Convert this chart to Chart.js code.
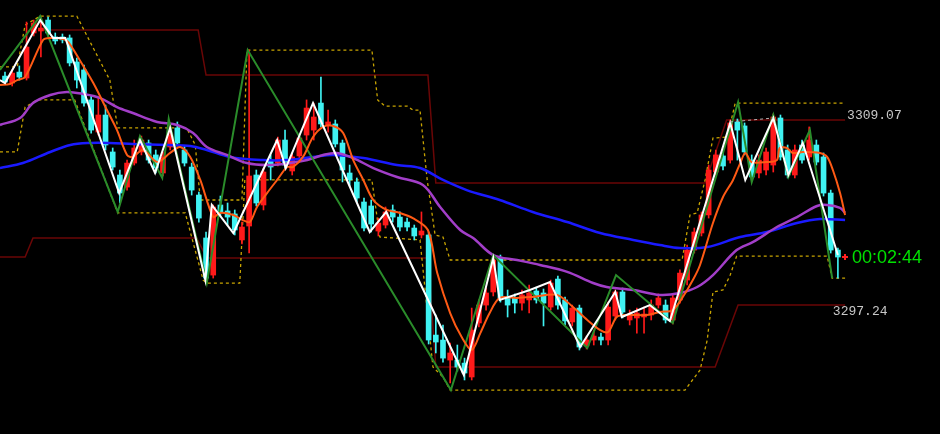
<!DOCTYPE html>
<html>
<head>
<meta charset="utf-8">
<script src="https://cdn.jsdelivr.net/npm/chart.js@4.4.1/dist/chart.umd.min.js"></script>
<style>
  html, body { margin: 0; padding: 0; background: #000; }
  #wrap { width: 940px; height: 434px; background: #000; }
</style>
</head>
<body>
<div id="wrap"><canvas id="c" width="940" height="434"></canvas></div>
<script>
// candle OHLC, one entry per bar (index 0..116)
const opens = [3311.48,3311.06,3311.72,3311.36,3314.08,3314.20,3314.86,3313.84,3313.84,3313.78,
  3312.33,3311.85,3310.04,3308.10,3309.13,3306.90,3305.51,3304.78,3306.23,3306.90,
  3307.44,3306.72,3305.63,3307.20,3308.35,3307.02,3305.99,3304.30,3301.71,3299.47,
  3303.70,3303.34,3303.16,3301.59,3302.43,3305.51,3303.70,3306.41,3306.23,3307.62,
  3305.75,3306.66,3307.92,3308.22,3309.85,3308.47,3308.59,3307.44,3305.63,3305.09,
  3303.88,3303.64,3302.13,3302.49,3303.40,3302.97,3302.67,3302.31,3301.89,3301.89,
  3295.85,3295.55,3294.34,3294.34,3294.16,3293.32,3296.58,3297.66,3298.45,3300.50,
  3298.09,3298.09,3297.78,3297.97,3298.51,3298.39,3297.54,3299.23,3297.97,3296.64,
  3297.48,3295.19,3295.55,3295.73,3295.55,3297.00,3298.45,3296.76,3296.88,3296.94,
  3297.06,3297.66,3297.66,3296.76,3297.97,3299.17,3300.98,3302.01,3303.10,3305.69,
  3306.66,3306.41,3308.71,3308.47,3306.41,3305.63,3305.81,3306.11,3308.95,3307.02,
  3305.51,3307.32,3306.60,3307.32,3306.60,3304.42,3300.98]
const highs = [3311.72,3311.85,3312.09,3314.74,3314.86,3315.04,3315.04,3314.08,3314.02,3313.96,
  3312.57,3312.15,3310.28,3310.22,3309.73,3307.14,3305.81,3306.41,3307.62,3307.86,
  3307.62,3307.02,3306.90,3308.65,3308.71,3307.26,3306.23,3304.48,3302.07,3303.70,
  3304.24,3303.82,3303.40,3302.67,3313.05,3305.81,3305.93,3306.72,3307.80,3308.22,
  3306.84,3307.92,3310.04,3309.85,3311.42,3309.43,3308.83,3307.62,3306.11,3305.33,
  3304.12,3304.00,3302.91,3303.58,3303.70,3303.28,3302.91,3302.49,3303.28,3302.07,
  3297.06,3296.46,3295.37,3295.25,3294.46,3297.48,3297.97,3298.69,3300.56,3300.68,
  3298.57,3298.33,3298.57,3298.87,3298.69,3298.63,3299.17,3299.41,3298.15,3297.66,
  3297.66,3295.79,3296.15,3295.97,3297.84,3298.57,3298.69,3297.36,3297.48,3297.54,
  3297.97,3298.33,3297.97,3298.27,3299.78,3301.28,3302.31,3303.28,3306.11,3307.02,
  3306.90,3308.83,3308.89,3308.65,3306.72,3306.72,3307.14,3309.19,3309.13,3307.32,
  3307.32,3307.62,3308.41,3307.62,3306.84,3304.60,3301.10]
const lows = [3311.00,3310.88,3311.24,3311.24,3313.90,3312.63,3313.90,3313.41,3313.48,3312.09,
  3310.76,3309.67,3308.04,3307.92,3307.02,3305.81,3303.82,3304.60,3306.11,3306.72,
  3306.23,3305.63,3305.45,3307.02,3307.26,3306.05,3304.30,3302.67,3299.05,3299.29,
  3303.03,3302.49,3301.89,3301.35,3300.80,3303.64,3303.40,3305.21,3306.05,3305.81,
  3305.51,3306.41,3307.62,3307.62,3308.41,3308.10,3307.20,3305.09,3304.85,3303.88,
  3302.13,3302.07,3301.83,3302.31,3302.67,3302.13,3302.13,3301.59,3301.71,3295.31,
  3294.77,3294.22,3292.96,3293.68,3293.14,3293.14,3296.34,3297.36,3298.21,3297.84,
  3296.94,3297.18,3297.36,3297.18,3297.78,3296.40,3297.36,3297.42,3296.46,3296.40,
  3294.95,3295.01,3295.25,3295.25,3295.25,3296.76,3296.88,3296.46,3295.97,3295.97,
  3296.76,3297.48,3296.58,3296.52,3297.78,3298.87,3300.80,3301.83,3302.91,3305.51,
  3305.81,3306.23,3306.41,3306.72,3305.21,3305.33,3305.51,3305.69,3306.41,3305.33,
  3305.33,3306.23,3306.41,3306.11,3304.24,3300.80,3299.29]
const closes = [3311.12,3311.66,3311.42,3313.23,3314.68,3314.38,3314.08,3313.60,3313.66,3312.27,
  3311.24,3309.85,3308.22,3309.13,3307.32,3305.99,3304.42,3306.23,3307.14,3307.62,
  3306.41,3305.93,3306.60,3307.92,3307.44,3306.23,3304.60,3302.91,3299.29,3303.58,
  3303.28,3302.97,3302.19,3302.37,3305.45,3303.82,3305.69,3305.99,3307.62,3306.11,
  3306.60,3307.74,3309.55,3309.01,3308.59,3308.71,3307.38,3305.81,3305.21,3304.12,
  3302.31,3302.55,3302.61,3303.28,3302.97,3302.37,3302.37,3301.83,3302.13,3295.55,
  3295.43,3294.46,3294.77,3293.92,3293.56,3296.15,3297.66,3298.39,3300.38,3298.09,
  3297.66,3297.78,3298.27,3298.39,3297.97,3297.78,3298.99,3297.66,3296.70,3297.48,
  3295.13,3295.55,3295.79,3295.55,3297.54,3298.45,3297.24,3297.12,3297.18,3297.12,
  3297.66,3298.09,3296.76,3298.09,3299.59,3300.98,3302.07,3303.10,3305.81,3306.72,
  3306.05,3308.65,3308.22,3306.90,3305.39,3306.41,3306.90,3309.01,3306.60,3305.51,
  3307.02,3306.41,3307.62,3306.29,3304.42,3300.98,3300.56]

// overlay lines as [bar index, price]
const maFast = [[-0.7,3310.94],[0.7,3311.00],[1.7,3311.24],[2.8,3311.42],[5.3,3313.66],[6.3,3313.78],
  [8.1,3313.72],[8.8,3313.54],[10.4,3312.45],[12.3,3311.06],[14.2,3309.43],[15.6,3308.22],
  [17.0,3306.72],[17.8,3306.60],[19.2,3307.02],[21.2,3306.29],[23.0,3306.84],[24.4,3307.20],
  [25.8,3306.60],[27.2,3305.21],[29.0,3302.97],[29.9,3303.22],[31.8,3303.10],[33.1,3302.79],
  [34.1,3302.67],[35.1,3303.58],[36.5,3304.42],[37.9,3305.21],[39.3,3305.99],[40.1,3305.99],
  [41.5,3306.60],[42.9,3307.80],[44.3,3308.41],[45.7,3308.47],[47.1,3308.04],[48.5,3306.41],
  [49.9,3305.21],[51.3,3304.00],[53.2,3303.40],[55.0,3303.22],[56.8,3302.91],[58.9,3302.19],
  [60.2,3299.59],[62.0,3297.18],[63.6,3295.73],[65.0,3294.95],[66.2,3295.97],[67.5,3297.18],
  [68.9,3298.09],[71.3,3298.09],[73.5,3298.15],[76.9,3298.27],[79.1,3297.54],[81.1,3296.76],
  [82.9,3296.15],[84.0,3296.03],[85.2,3296.94],[86.6,3297.06],[89.4,3297.06],[91.2,3297.24],
  [93.0,3297.36],[94.4,3298.15],[95.8,3299.17],[96.8,3300.08],[98.6,3302.61],[100.0,3304.18],
  [101.4,3305.21],[102.4,3306.23],[103.1,3306.84],[104.0,3306.29],[106.1,3306.29],[107.5,3306.41],
  [107.9,3307.14],[108.9,3307.14],[109.7,3306.84],[111.1,3306.90],[113.5,3306.84],[114.5,3306.60],
  [115.3,3305.81],[116.3,3304.42],[117.0,3303.10]]
const maMid = [[-0.7,3308.53],[2.1,3308.95],[3.9,3309.85],[6.3,3310.34],[8.6,3310.52],[10.9,3310.40],
  [13.2,3310.16],[15.6,3309.61],[17.8,3309.25],[21.2,3308.71],[24.0,3308.53],[26.2,3308.04],
  [28.1,3307.20],[30.9,3306.72],[33.7,3306.23],[36.5,3306.11],[39.7,3306.23],[42.1,3306.41],
  [44.3,3306.72],[46.2,3306.84],[48.5,3306.53],[51.3,3305.93],[54.6,3305.39],[58.2,3304.91],
  [60.6,3303.58],[63.4,3302.19],[65.2,3301.71],[68.0,3300.68],[71.3,3300.38],[74.5,3300.08],
  [78.3,3299.66],[81.9,3298.99],[83.8,3298.75],[87.5,3298.57],[91.2,3298.27],[94.0,3298.39],
  [96.4,3298.75],[98.6,3299.47],[101.9,3300.98],[104.2,3301.47],[107.5,3302.37],[110.3,3302.97],
  [113.1,3303.64],[114.5,3303.70],[116.3,3303.52],[117.0,3303.22]]
const maSlow = [[-0.7,3305.93],[2.5,3306.23],[6.3,3306.90],[9.1,3307.32],[11.8,3307.44],[14.6,3307.44],
  [17.8,3307.38],[22.6,3307.32],[25.8,3307.26],[28.1,3307.02],[31.3,3306.60],[35.9,3306.41],
  [39.3,3306.41],[42.9,3306.60],[45.7,3306.72],[49.9,3306.53],[54.6,3306.11],[57.8,3305.93],
  [61.0,3305.21],[64.3,3304.60],[68.9,3304.00],[73.5,3303.28],[78.3,3302.67],[82.9,3302.01],
  [87.5,3301.59],[91.2,3301.28],[94.0,3301.10],[97.8,3301.16],[102.4,3301.77],[106.1,3302.07],
  [110.3,3302.61],[113.5,3302.85],[117.0,3302.79]]
const zigWhite = [[-0.7,3311.24],[0,3311.06],[4.9,3314.86],[6.7,3313.78],[8.4,3313.78],[15.9,3304.42],
  [18.8,3307.62],[20.9,3305.63],[23.0,3308.35],[27.9,3299.17],[28.8,3303.70],[31.8,3302.01],
  [37.9,3307.62],[39.1,3305.93],[42.9,3309.85],[50.8,3302.07],[53.1,3303.28],[63.9,3293.44],
  [68.0,3300.50],[68.9,3297.97],[73.1,3298.57],[75.9,3299.05],[80.1,3295.13],[85.0,3298.45],
  [85.9,3296.94],[89.8,3297.66],[92.6,3296.70],[101.0,3308.65],[103.1,3305.21],[107.0,3308.95],
  [109.1,3305.51],[111.1,3307.44],[116.0,3300.68]]
const zigGreen = [[-0.7,3311.85],[4.9,3315.10],[15.7,3303.28],[18.8,3307.86],[21.9,3305.33],[22.8,3308.89],
  [28.1,3298.99],[33.8,3313.05],[62.1,3292.53],[68.0,3300.68],[81.1,3295.07],[85.1,3299.47],
  [93.0,3296.58],[102.1,3309.91],[104.0,3305.09],[107.0,3309.13],[109.1,3305.39],[112.1,3308.22],
  [115.2,3299.29]]
const bandHigh = [[4.9,3314.26],[26.9,3314.26],[28.0,3311.54],[58.9,3311.54],[60.0,3305.03],
  [97.5,3305.03],[100.5,3308.83],[117.0,3308.83]]
const bandLow = [[-0.7,3300.56],[2.8,3300.56],[3.9,3301.71],[26.7,3301.71],[28.1,3300.50],[58.9,3300.50],
  [60.0,3293.92],[98.9,3293.92],[102.1,3297.66],[117.0,3297.66]]
const stepHigh = [[-0.7,3312.03],[1.7,3312.03],[2.8,3314.56],[4.9,3315.10],[10.0,3315.10],[14.6,3311.24],
  [15.7,3308.35],[25.3,3308.35],[26.5,3307.32],[27.2,3304.00],[33.0,3304.00],[33.7,3313.05],
  [51.1,3313.05],[51.9,3310.04],[52.9,3309.67],[56.0,3309.67],[56.8,3309.43],[57.8,3309.43],
  [58.8,3305.21],[59.5,3303.10],[59.9,3301.89],[61.0,3301.77],[62.0,3300.38],[94.3,3300.38],
  [95.4,3303.10],[96.4,3303.22],[97.5,3305.21],[98.6,3307.74],[100.6,3307.80],[101.7,3309.85],
  [117.0,3309.85]]
const stepLow = [[-0.7,3306.90],[1.7,3306.90],[2.8,3309.61],[4.5,3310.04],[9.7,3310.04],[15.7,3303.22],
  [25.1,3303.22],[27.6,3299.17],[28.1,3298.99],[32.7,3298.99],[33.4,3305.21],[51.1,3305.21],
  [52.2,3301.77],[57.8,3301.59],[59.6,3293.92],[61.0,3293.32],[62.0,3292.53],[94.7,3292.53],
  [96.8,3293.74],[97.8,3295.55],[98.6,3298.45],[100.0,3298.57],[101.0,3299.47],[101.9,3300.62],
  [114.5,3300.62],[115.2,3299.29],[117.0,3299.29]]
const pivotLink = [[101.0,3308.71],[107.0,3308.95]]
const priceLabels = ["3309.07", "3297.24"]
const countdown = "00:02:44"

const UP = "#ff1a1a"
const DOWN = "#3ff2f2"

const pts = (pairs) => pairs.map(([x, y]) => ({ x, y }))
const candleColor = opens.map((o, i) => (closes[i] >= o ? UP : DOWN))

function lineSet(pairs, color, width, order, extra) {
  return Object.assign({
    type: "line",
    data: pts(pairs),
    borderColor: color,
    borderWidth: width,
    pointRadius: 0,
    tension: 0,
    fill: false,
    order
  }, extra || {})
}

// text at the right edge: price labels and the bar countdown
const annotations = {
  id: "annotations",
  afterDatasetsDraw(chart) {
    const { ctx, scales } = chart
    const xs = scales.x
    const ys = scales.y
    ctx.save()
    ctx.font = '13px "Liberation Mono", "DejaVu Sans Mono", monospace'
    ctx.fillStyle = "#c8c8c8"
    ctx.textBaseline = "middle"
    ctx.fillText(priceLabels[0], xs.getPixelForValue(117) + 2, ys.getPixelForValue(parseFloat(priceLabels[0])))
    ctx.fillText(priceLabels[1], xs.getPixelForValue(115.3), ys.getPixelForValue(parseFloat(priceLabels[1])))

    const last = closes[closes.length - 1]
    const yl = Math.round(ys.getPixelForValue(last))
    const xm = Math.round(xs.getPixelForValue(117))
    ctx.strokeStyle = "#ff2020"
    ctx.lineWidth = 2
    ctx.beginPath()
    ctx.moveTo(xm - 3, yl); ctx.lineTo(xm + 3, yl)
    ctx.moveTo(xm, yl - 3); ctx.lineTo(xm, yl + 3)
    ctx.stroke()

    ctx.font = '18px "Liberation Sans", Arial, sans-serif'
    ctx.fillStyle = "#00e000"
    ctx.fillText(countdown, xm + 7, yl + 1)
    ctx.restore()
  }
}

const bodies = opens.map((o, i) => ({ x: i, y: [o, closes[i]] }))
const wicks = lows.map((l, i) => ({ x: i, y: [l, highs[i]] }))

new Chart(document.getElementById("c").getContext("2d"), {
  type: "bar",
  data: {
    datasets: [
      lineSet(bandHigh, "#6a0606", 1.5, 20),
      lineSet(bandLow, "#6a0606", 1.5, 20),
      lineSet(stepHigh, "#c8a400", 1.3, 19, { borderDash: [3, 3] }),
      lineSet(stepLow, "#c8a400", 1.3, 19, { borderDash: [3, 3] }),
      {
        type: "bar",
        data: wicks,
        backgroundColor: candleColor,
        barThickness: 1,
        grouped: false,
        borderWidth: 0,
        order: 15
      },
      {
        type: "bar",
        data: bodies,
        backgroundColor: candleColor,
        barThickness: 5,
        grouped: false,
        borderWidth: 0,
        order: 14
      },
      lineSet(maSlow, "#1a1aff", 2.5, 8, { tension: 0.35 }),
      lineSet(maMid, "#a23ec8", 2.5, 7, { tension: 0.35 }),
      lineSet(zigGreen, "#2a8c2a", 2, 6),
      lineSet(maFast, "#ff5a14", 2, 5, { tension: 0.3 }),
      lineSet(zigWhite, "#ffffff", 2, 4),
      lineSet(pivotLink, "#b0b0b0", 1, 3, { borderDash: [3, 3] })
    ]
  },
  options: {
    responsive: false,
    animation: false,
    devicePixelRatio: 1,
    layout: { padding: 0 },
    plugins: {
      legend: { display: false },
      tooltip: { enabled: false }
    },
    scales: {
      x: {
        type: "linear",
        display: false,
        offset: false,
        min: -0.696,
        max: 130.22
      },
      y: {
        type: "linear",
        display: false,
        beginAtZero: false,
        min: 3289.88,
        max: 3316.07
      }
    }
  },
  plugins: [annotations]
})
</script>
</body>
</html>
